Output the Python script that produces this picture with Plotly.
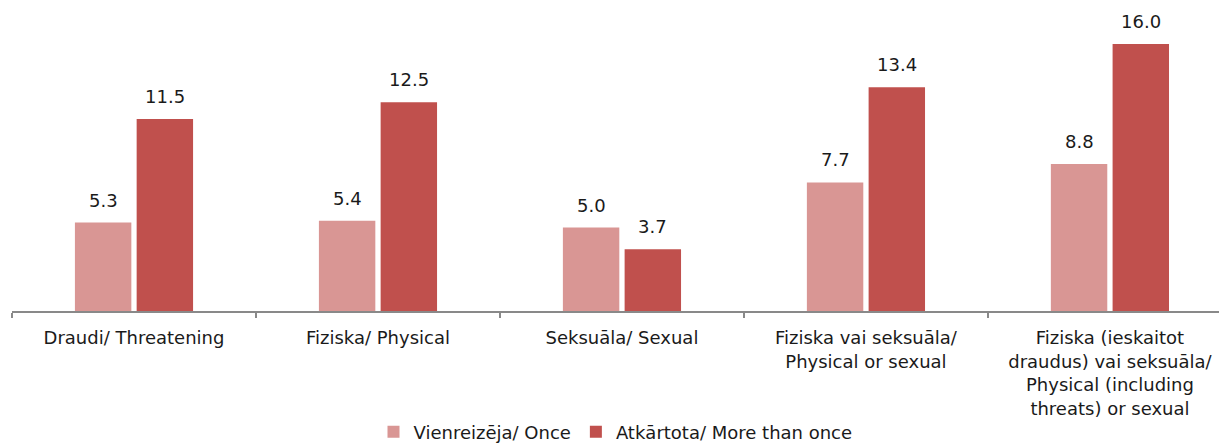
import plotly.graph_objects as go

categories = [
    "Draudi/ Threatening",
    "Fiziska/ Physical",
    "Seksuāla/ Sexual",
    "Fiziska vai seksuāla/<br>Physical or sexual",
    "Fiziska (ieskaitot<br>draudus) vai seksuāla/<br>Physical (including<br>threats) or sexual",
]
once = [5.3, 5.4, 5.0, 7.7, 8.8]
more = [11.5, 12.5, 3.7, 13.4, 16.0]
series_names = ["Vienreizēja/ Once", "Atkārtota/ More than once"]
colors = ["#D99694", "#C0504D"]

FONT = "DejaVu Sans"
TXT = "#1a1a1a"

fig = go.Figure()
for name, vals, col in zip(series_names, [once, more], colors):
    fig.add_trace(go.Bar(
        x=categories, y=vals, name=name, marker_color=col,
        marker_line_width=0,
    ))

# value labels above bars
shifts = [-30.7, 30.7]
for vals, xs in zip([once, more], shifts):
    for c, v in zip(categories, vals):
        fig.add_annotation(
            x=c, y=v, text=f"{v:.1f}", showarrow=False,
            xshift=xs, yshift=10, yanchor="bottom",
            font=dict(family=FONT, size=18, color=TXT),
        )

fig.update_layout(
    width=1219, height=443,
    margin=dict(l=12, r=0, t=10, b=132, autoexpand=False),
    paper_bgcolor="white", plot_bgcolor="white",
    barmode="group", bargap=0.494, bargroupgap=0.086,
    font=dict(family=FONT, size=18, color=TXT),
    showlegend=True,
    legend=dict(orientation="h", x=0.5, xanchor="center",
                yref="container", y=0.0248, yanchor="middle",
                font=dict(family=FONT, size=18, color=TXT),
                traceorder="normal"),
)
fig.update_xaxes(
    range=[-0.5, 4.447],
    showline=True, linecolor="#898989", linewidth=1.5,
    ticks="outside", ticklen=5, tickcolor="#898989", tickwidth=1.5,
    tickson="boundaries", showgrid=False, ticklabelstandoff=10,
    tickfont=dict(family=FONT, size=18, color=TXT),
)
fig.update_yaxes(visible=False, range=[0, 18.03], showgrid=False, zeroline=False)

fig.write_html("out.html", config={"displayModeBar": False},
               post_script="document.body.style.margin='0px';")
